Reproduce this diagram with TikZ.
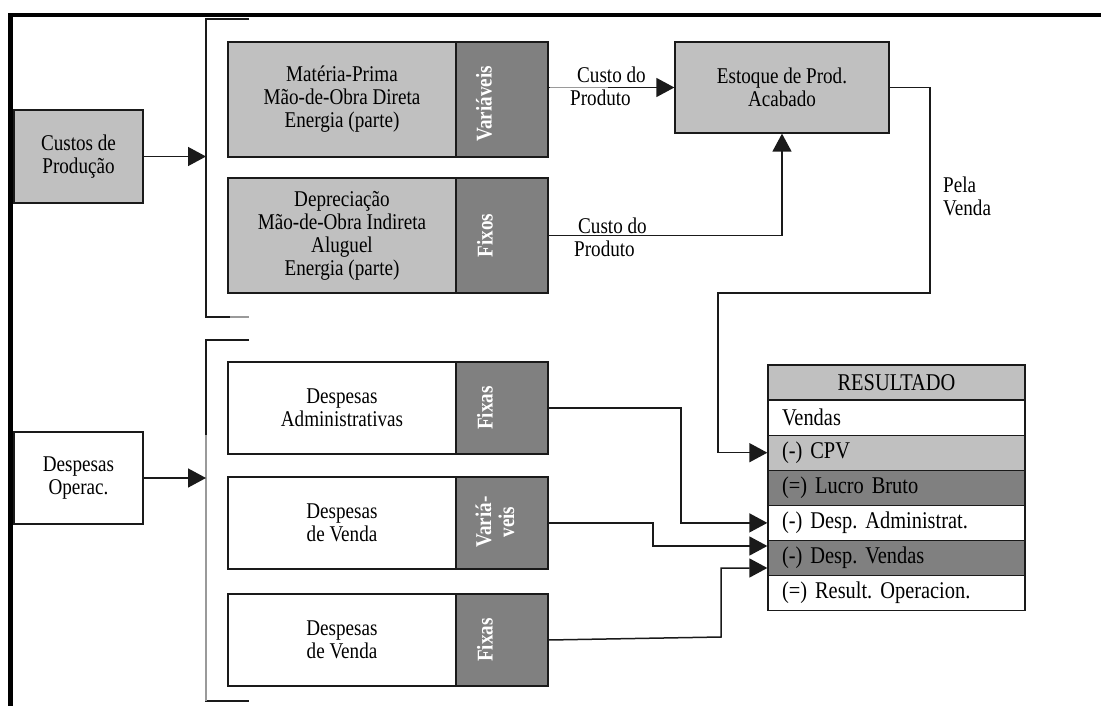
\documentclass[tikz,border=0pt]{standalone}
\usepackage{fontspec}
\setmainfont{Liberation Serif}[FakeStretch=0.85]
\usetikzlibrary{arrows.meta}

\definecolor{lightgr}{HTML}{C0C0C0}
\definecolor{darkgr}{HTML}{808080}
\definecolor{edge}{HTML}{1A1A1A}
\definecolor{fadeline}{HTML}{9A9A9A}

\newcommand\boxfont{\fontsize{22.5}{23}\selectfont}
\newcommand\tabfont{\fontsize{24}{25}\selectfont}

\begin{document}
\frenchspacing
\begin{tikzpicture}[x=1pt,y=-1pt,
  box/.style={draw=edge, line width=1.3pt, inner sep=0pt, align=center, font=\boxfont},
  lightbox/.style={box, fill=lightgr},
  whitebox/.style={box, fill=white},
  tagbox/.style={box, fill=darkgr, minimum width=92pt},
  vlab/.style={rotate=90, text=white, font=\bfseries\boxfont, inner sep=0pt, align=center},
  lbl/.style={inner sep=0pt, align=left, font=\boxfont},
  row/.style={draw=edge, line width=1.3pt, minimum height=35.1pt, text width=229pt,
              inner xsep=14pt, inner ysep=0pt, align=left, font=\tabfont},
  tip/.style={-{Triangle[length=18pt,width=19pt]}},
  conn/.style={draw=edge, line width=1.5pt, tip},
  wire/.style={draw=edge, line width=1.5pt},
  faded/.style={draw=fadeline, line width=1.5pt},
]
\useasboundingbox (0,0) rectangle (1101,706);

% page frame
\draw[line width=4.5pt, miter limit=10] (10.5,706) -- (10.5,15) -- (1101,15);

% brackets gathering the two groups
\coordinate (br1t) at (206,19);
\coordinate (br1b) at (206,317);
\coordinate (br2t) at (206,340);
\coordinate (br2b) at (206,701);
\draw[wire] ([xshift=43pt]br1t) -- (br1t) -- (br1b) -- ([xshift=43pt]br1b);
\draw[wire] ([xshift=43pt]br2t) -- (br2t) -- (br2b) -- ([xshift=43pt]br2b);
\draw[faded] (206,435) -- (br2b);
\draw[faded] ([xshift=24pt]br1b) -- ([xshift=43pt]br1b);

% left column
\node[lightbox, minimum width=129pt, minimum height=93pt] (cp) at (78.5,156.5) {Custos de\\Produção};
\node[whitebox, minimum width=129pt, minimum height=92pt] (dop) at (78.5,478) {Despesas\\Operac.};
\draw[conn] (cp.east) -- (cp.east -| br1t);
\draw[conn] (dop.east) -- (dop.east -| br2t);

% production costs
\node[lightbox, minimum width=228pt, minimum height=115pt] (mp) at (342,99.5)
  {Matéria-Prima\\Mão-de-Obra Direta\\Energia (parte)};
\node[tagbox, minimum height=115pt] (mpv) at (502,99.5) {};
\node[vlab] at (484,104) {Variáveis};

\node[lightbox, minimum width=228pt, minimum height=115pt] (dep) at (342,235.5)
  {Depreciação\\Mão-de-Obra Indireta\\Aluguel\\Energia (parte)};
\node[tagbox, minimum height=115pt] (depf) at (502,235.5) {};
\node[vlab] at (485,235.5) {Fixos};

% operating expenses
\node[whitebox, minimum width=228pt, minimum height=92pt] (da) at (342,408)
  {Despesas\\Administrativas};
\node[tagbox, minimum height=92pt] (daf) at (502,408) {};
\node[vlab] at (485,408) {Fixas};

\node[whitebox, minimum width=228pt, minimum height=92pt] (dv1) at (342,523)
  {Despesas\\de Venda};
\node[tagbox, minimum height=92pt] (dvv) at (502,523) {};
\node[vlab] at (495,522) {Variá-\\veis};

\node[whitebox, minimum width=228pt, minimum height=92pt] (dv2) at (342,640)
  {Despesas\\de Venda};
\node[tagbox, minimum height=92pt] (dvf) at (502,640) {};
\node[vlab] at (485,640) {Fixas};

% finished goods stock
\node[lightbox, minimum width=214pt, minimum height=91pt] (est) at (782,87.5)
  {Estoque de Prod.\\Acabado};

\draw[conn] (mpv.east |- est.west) -- (est.west);
\draw[faded] ([xshift=1pt]mpv.east |- est.west) -- ++(58,0);
\draw[conn] (depf.east) -| (est.south);
\node[lbl, anchor=west] (l1) at (570,86.5) {\hspace*{7pt}Custo do\\Produto};
\node[lbl, anchor=west] (l2) at (574,237.5) {\hspace*{4pt}Custo do\\Produto};

% income statement
\node[row, fill=lightgr, align=center] (hdr) at (896.5,382.5) {RESULTADO};
\node[row, fill=white]   (vend) at (896.5,417.6) {Vendas};
\node[row, fill=lightgr] (cpv)  at (896.5,452.7) {(-) CPV};
\node[row, fill=darkgr]  (lb)   at (896.5,487.8) {(=) Lucro Bruto};
\node[row, fill=white]   (dadm) at (896.5,522.9) {(-) Desp. Administrat.};
\node[row, fill=darkgr]  (dven) at (896.5,558.0) {(-) Desp. Vendas};
\node[row, fill=white]   (res)  at (896.5,593.1) {(=) Result. Operacion.};

% flows into the statement
\draw[conn] (est.east) -- (930,87.5) -- (930,293) -- (718,293) |- (cpv.west);
\node[lbl, anchor=west] (l3) at (943,196.5) {Pela\\Venda};

\draw[conn] (daf.east) -- (681,408) |- (dadm.west);
\draw[conn] (dvv.east) -- (653,523) |- ([yshift=12pt]dven.west);
\draw[conn] (dvf.east) -- (721,637) |- ([yshift=-10pt]dven.west);
\end{tikzpicture}
\end{document}
